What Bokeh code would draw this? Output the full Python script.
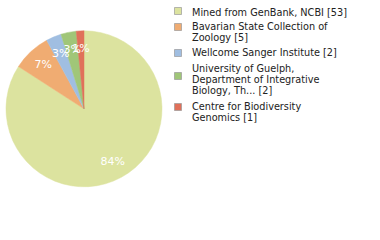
import math
from bokeh.plotting import figure
from bokeh.models import Range1d, ColumnDataSource
from bokeh.core.properties import value
from bokeh.embed import file_html
from bokeh.resources import INLINE

# ---- data ----
labels = [
    "Mined from GenBank, NCBI [53]",
    "Bavarian State Collection of\nZoology [5]",
    "Wellcome Sanger Institute [2]",
    "University of Guelph,\nDepartment of Integrative\nBiology, Th... [2]",
    "Centre for Biodiversity\nGenomics [1]",
]
counts = [53, 5, 2, 2, 1]
colors = ["#dce39f", "#f0ac72", "#a0bee1", "#a0c678", "#e0705a"]

W, H = 380, 240
p = figure(width=W, height=H, output_backend="svg", toolbar_location=None,
           x_range=Range1d(0, W), y_range=Range1d(0, H), min_border=0)
p.axis.visible = False
p.grid.visible = False
p.outline_line_color = None
p.background_fill_color = "white"

def Y(py):
    return H - py

cx, cy, R = 83.5, Y(108.3), 78
total = sum(counts)
starts, ends, lx, ly, pct = [], [], [], [], []
cum = 0.0
for c in counts:
    a0 = math.pi / 2 - 2 * math.pi * cum / total
    cum += c
    a1 = math.pi / 2 - 2 * math.pi * cum / total
    starts.append(a0)
    ends.append(a1)
    mid = (a0 + a1) / 2
    lx.append(cx + 60 * math.cos(mid))
    ly.append(cy + 60 * math.sin(mid))
    pct.append("%d%%" % int(math.floor(100.0 * c / total)))

src = ColumnDataSource(dict(start=starts, end=ends, color=colors))
p.wedge(x=cx, y=cy, radius=R, radius_units="screen", start_angle="start",
        end_angle="end", direction="clock", fill_color="color",
        line_color="color", line_width=0.5, source=src)

p.text(x=lx, y=ly, text=pct, text_color="white", text_font=value("DejaVu Sans"),
       text_font_size="11px", text_align="center", text_baseline="middle")

# legend
sq_y = [10.5, 26.5, 52.5, 75.5, 106.5]
first_base = [12, 26, 52, 68, 106]
line_h = 11
tx, ty, tt = [], [], []
for i, lab in enumerate(labels):
    for j, line in enumerate(lab.split("\n")):
        tx.append(191.5)
        ty.append(Y(first_base[i] + j * line_h))
        tt.append(line)
p.rect(x=[177.5] * len(counts), y=[Y(v) for v in sq_y], width=7, height=7,
       width_units="screen", height_units="screen", fill_color=colors,
       line_color="#999999", line_width=0.7)
p.text(x=tx, y=ty, text=tt, text_color="#222222",
       text_font=value("DejaVu Sans Condensed, DejaVu Sans"),
       text_font_size="10.8px", text_align="left", text_baseline="alphabetic")

open("out.html", "w").write(file_html(p, INLINE))
